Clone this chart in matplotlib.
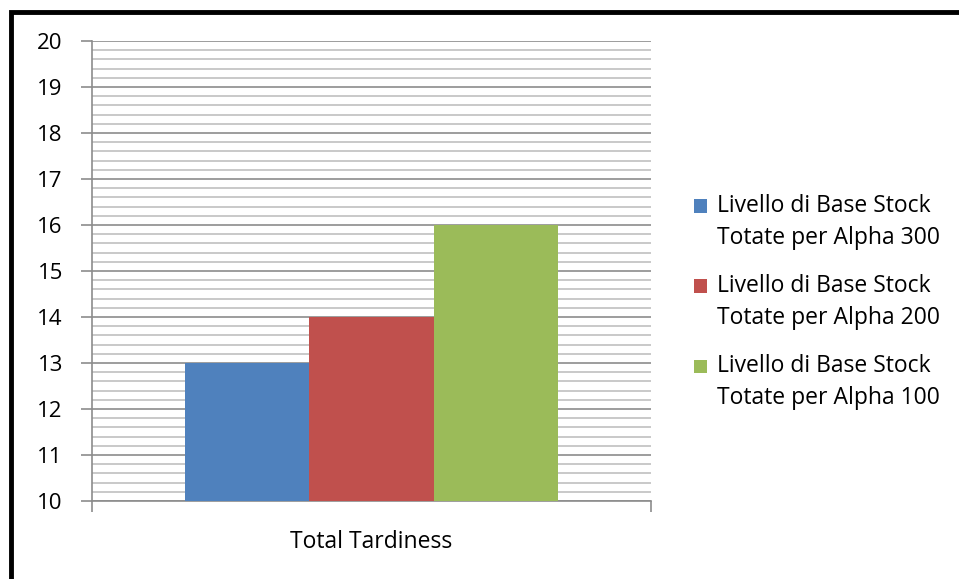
import numpy as np
import matplotlib.pyplot as plt
from matplotlib.patches import Rectangle
from matplotlib.container import BarContainer
from matplotlib.legend_handler import HandlerPatch
from matplotlib.ticker import MultipleLocator

category = "Total Tardiness"
series = ["Livello di Base Stock\nTotate per Alpha 300",
          "Livello di Base Stock\nTotate per Alpha 200",
          "Livello di Base Stock\nTotate per Alpha 100"]
values = [13, 14, 16]
colors = ["#4f81bd", "#c0504d", "#9bbb59"]

plt.rcParams['font.family'] = ['Open Sans', 'DejaVu Sans']

fig = plt.figure(figsize=(9.59, 5.79), dpi=100)
ax = fig.add_axes([92/959, 1 - 501/579, (651-92)/959, (501-41)/579])

# outer chart frame (left and top edges visible)
fig.patches.append(Rectangle((11/959, -0.1), 1.2, 1 - 12/579 + 0.1,
                             transform=fig.transFigure, fill=False,
                             edgecolor="black", linewidth=3.5, zorder=0))

bw = 0.667 / 3
x = np.array([-1, 0, 1]) * bw
for xi, v, c, s in zip(x, values, colors, series):
    ax.bar(xi, v - 10, bottom=10, width=bw, color=c, label=s, zorder=3)

ax.set_xlim(-0.5, 0.5)
ax.set_ylim(10, 20)
ax.yaxis.set_major_locator(MultipleLocator(1))
ax.yaxis.set_minor_locator(MultipleLocator(0.2))
ax.grid(which="major", axis="y", color="#8c8c8c", linewidth=1.2, zorder=1)
ax.grid(which="minor", axis="y", color="#c0c0c0", linewidth=1.2, zorder=1)

ax.set_xticks([-0.5, 0.5])
ax.set_xticklabels([])
ax.tick_params(axis="x", length=8, color="#8c8c8c", width=1.2)
ax.tick_params(axis="y", which="major", length=8, color="#8c8c8c", width=1.2,
               labelsize=16, pad=13)
ax.tick_params(axis="y", which="minor", length=0)
ax.text(0.5, -0.09, category, transform=ax.transAxes, ha="center", va="center",
        fontsize=16.5)

for side in ["top", "right"]:
    ax.spines[side].set_visible(False)
for side in ["left", "bottom"]:
    ax.spines[side].set_color("#8c8c8c")
    ax.spines[side].set_linewidth(1.2)


# legend square sits next to the first line of each two-line label
def top_square(legend, orig_handle, xdescent, ydescent, width, height, fontsize):
    size = 0.6 * fontsize
    y0 = -ydescent + height - 0.4 * fontsize
    return Rectangle((-xdescent, y0), size, size)


def copy_color(legend_handle, orig_handle):
    legend_handle.update_from(orig_handle.patches[0])


leg = ax.legend(loc="center left", bbox_to_anchor=(673/959, 277/579),
                bbox_transform=fig.transFigure, frameon=False, fontsize=16.5,
                handlelength=0.6, handleheight=2.3, handletextpad=0.4,
                labelspacing=1.05,
                handler_map={BarContainer: HandlerPatch(patch_func=top_square,
                                                        update_func=copy_color)})
for t in leg.get_texts():
    t.set_linespacing(1.45)

fig.savefig("out.png", dpi=100)
